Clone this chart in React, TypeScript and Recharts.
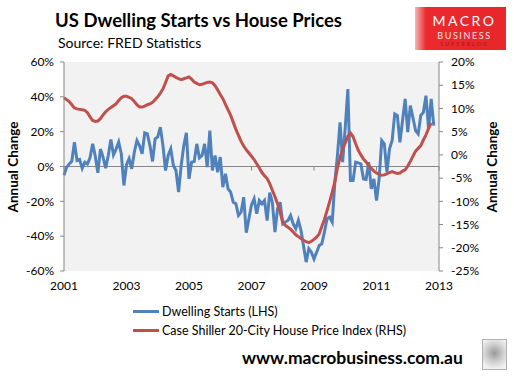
import React from "react";
import { CartesianGrid, Line, LineChart, ReferenceLine, XAxis, YAxis } from "recharts";

// monthly, Jan 2001 .. Nov 2012 (annual % change)
const dwellingStarts = [
  -5, -0.5, 1.5, 3, 14, 3.5, 4, -1, 2.5, 1.5, 5, 13,
  6, -3.6, 10, 5.4, -1, 6.3, 15.5, 6.7, 10, 14, 7.3, -10.9,
  1, 4.5, -1.3, 8.2, 14.9, 12, 7.3, 19.3, 18.7, 12, 2.9, 15.9,
  17, 22.6, 12, -2.3, 6.3, 10.1, 0.6, -2.3, -14.7, 0.6, 12, 19.3,
  -7.1, 2.5, 2.9, 13, 5, 6.3, 13, -0.4, 20.6, -2.3, 6.3, -3.3,
  5.4, -11.9, -4.2, -12.8, -14.7, -20.5, -21.4, -28.1, -26.2, -17.6, -38, -30,
  -22, -18.5, -27.1, -19.5, -21.4, -19.5, -31, -15, -20.5, -37.7, -24.3, -20.5,
  -32.9, -31.9, -31, -28.1, -32.9, -35.7, -31, -36.7, -45.8, -54.9, -47.2, -49.2,
  -53.1, -49.2, -45.3, -44.4, -37.7, -30, -29.1, -31.9, -9, 6.3, 25.4, 2.5,
  22.5, 44.5, -8, -8, 2.5, 2.1, 1.5, -7.1, -7.4, 2.5, -12.8, -7.1,
  -19.5, -7.1, 14.9, 13, -3.3, 10.1, 14.9, 30.2, 29.3, 13.9, 26.4, 38.8,
  19.7, 35, 28, 20.6, 18.7, 29.3, 31.1, 40.7, 21.6, 38.8, 23.5,
];

const caseShiller = [
  12.3, 11.9, 11.5, 10.8, 10.1, 9.9, 9.8, 9.7, 9.6, 9.1, 8.2, 7.4,
  7.2, 7.3, 7.8, 8.6, 9.3, 9.8, 10.2, 10.6, 11.0, 11.7, 12.3, 12.6,
  12.6, 12.4, 12.1, 11.5, 10.8, 10.3, 10.3, 10.5, 10.8, 11.0, 11.3, 11.9,
  12.5, 13.3, 14.2, 15.6, 17.0, 17.3, 17.0, 16.7, 16.4, 16.2, 16.4, 16.6,
  16.8, 16.3, 15.7, 15.4, 15.1, 15.2, 15.4, 15.6, 15.7, 15.5, 14.9, 14.0,
  13.0, 12.1, 10.9, 9.7, 8.5, 7.0, 5.5, 4.2, 2.9, 1.9, 1.1, 0.4,
  -0.3, -1.0, -1.9, -2.8, -3.8, -4.5, -5.1, -6.2, -7.6, -9.0, -10.5, -12.4,
  -14.5, -15.2, -15.6, -16.0, -16.6, -17.2, -17.6, -18.0, -18.4, -18.7, -18.9, -18.6,
  -18.2, -17.7, -17.0, -15.4, -13.9, -12.0, -10.1, -8.0, -5.8, -2.8, -0.6, 1.3,
  2.6, 4.0, 4.7, 3.9, 2.4, 1.0, 0.0, -0.9, -1.5, -2.3, -2.9, -3.5,
  -3.9, -4.2, -4.4, -4.3, -4.1, -3.8, -3.6, -3.8, -4.0, -3.9, -3.5, -3.2,
  -2.4, -1.4, -0.3, 0.8, 1.4, 2.0, 3.2, 4.3, 5.7, 6.9,
];

const yearTicks = [0, 24, 48, 72, 96, 120, 144];
const yearLabels = ["2001", "2003", "2005", "2007", "2009", "2011", "2013"];
const leftTicks = [-60, -40, -20, 0, 20, 40, 60];
const rightTicks = [-25, -20, -15, -10, -5, 0, 5, 10, 15, 20];

const data = dwellingStarts.map((v, i) => ({
  m: i,
  starts: v,
  prices: i < caseShiller.length ? caseShiller[i] : null,
}));

const FONT = "Lato, 'Open Sans', sans-serif";
const AXIS = "#868686";
const BLUE = "#4F81BD";
const RED = "#C0504D";

function AxisTitle({ x }: { x: number }) {
  return (
    <div
      style={{
        position: "absolute",
        left: x,
        top: 167,
        transform: "translate(-50%, -50%) rotate(-90deg)",
        fontSize: 13.5,
        fontWeight: 700,
        whiteSpace: "nowrap",
      }}
    >
      Annual Change
    </div>
  );
}

export default function App() {
  const tickStyle = { fill: "#000", fontSize: 12, fontFamily: FONT };
  return (
    <div style={{ position: "absolute", left: 0, top: 0, width: 514, height: 378, background: "#fff", fontFamily: FONT }}>
      <div style={{ position: "absolute", left: 55, top: 9, fontSize: 18.5, fontWeight: 700, whiteSpace: "nowrap" }}>
        US Dwelling Starts vs House Prices
      </div>
      <div style={{ position: "absolute", left: 58, top: 34, fontSize: 14, whiteSpace: "nowrap" }}>
        Source: FRED Statistics
      </div>

      <div
        style={{
          position: "absolute",
          left: 415,
          top: 7,
          width: 91,
          height: 43,
          background: "linear-gradient(90deg, #f7b5b5 0%, #ea2a2e 12%, #e8262b 100%)",
          textAlign: "center",
          lineHeight: 1,
        }}
      >
        <div style={{ color: "#fff", fontSize: 14, letterSpacing: 2.5, marginTop: 7, marginLeft: 8 }}>MACRO</div>
        <div style={{ color: "#fde2e2", fontSize: 9, letterSpacing: 1.6, marginTop: 3, marginLeft: 8 }}>BUSINESS</div>
        <div style={{ color: "#a8161a", fontSize: 5, letterSpacing: 2.2, marginTop: 2, marginLeft: 8 }}>SUPERBLOG</div>
      </div>

      <LineChart width={514} height={378} data={data} margin={{ top: 62, right: 0, bottom: 77, left: 0 }}>
        <CartesianGrid horizontal={false} vertical={false} fill="#F2F2F2" />
        <XAxis
          dataKey="m"
          type="number"
          domain={[0, 144]}
          ticks={yearTicks}
          tickFormatter={(v) => yearLabels[yearTicks.indexOf(v)]}
          axisLine={false}
          tickLine={false}
          tickSize={8}
          height={30}
          tick={tickStyle}
          interval={0}
        />
        <YAxis
          yAxisId="left"
          orientation="left"
          domain={[-60, 60]}
          ticks={leftTicks}
          tickFormatter={(v) => `${v}%`}
          width={64}
          tickSize={4}
          tickMargin={6}
          stroke={AXIS}
          tick={tickStyle}
          interval={0}
        />
        <YAxis
          yAxisId="right"
          orientation="right"
          domain={[-25, 20]}
          ticks={rightTicks}
          tickFormatter={(v) => `${v}%`}
          width={75}
          tickSize={4}
          tickMargin={8}
          stroke={AXIS}
          tick={tickStyle}
          interval={0}
        />
        <ReferenceLine yAxisId="left" y={0} stroke={AXIS} strokeWidth={1} />
        {yearTicks.map((t) => (
          <ReferenceLine
            key={t}
            yAxisId="left"
            segment={[
              { x: t, y: 0 },
              { x: t, y: -2.3 },
            ]}
            stroke={AXIS}
          />
        ))}
        <Line
          yAxisId="left"
          type="linear"
          dataKey="starts"
          stroke={BLUE}
          strokeWidth={3}
          dot={false}
          isAnimationActive={false}
        />
        <Line
          yAxisId="right"
          type="linear"
          dataKey="prices"
          stroke={RED}
          strokeWidth={3}
          dot={false}
          isAnimationActive={false}
        />
      </LineChart>

      <AxisTitle x={13} />
      <AxisTitle x={492} />

      <div style={{ position: "absolute", left: 133, top: 302, fontSize: 12.5, lineHeight: "19px" }}>
        <div style={{ display: "flex", alignItems: "center" }}>
          <span style={{ display: "inline-block", width: 26, height: 3, background: BLUE, marginRight: 3 }} />
          Dwelling Starts (LHS)
        </div>
        <div style={{ display: "flex", alignItems: "center" }}>
          <span style={{ display: "inline-block", width: 26, height: 3, background: RED, marginRight: 3 }} />
          Case Shiller 20-City House Price Index (RHS)
        </div>
      </div>

      <div style={{ position: "absolute", left: 242, top: 347, fontSize: 17.5, fontWeight: 700, whiteSpace: "nowrap" }}>
        www.macrobusiness.com.au
      </div>
      <div
        style={{
          position: "absolute",
          left: 482,
          top: 339,
          width: 23,
          height: 29,
          border: "1px solid #b0b0b0",
          background: "radial-gradient(circle at 50% 45%, #9a9a9a 0%, #cfcfcf 45%, #f0f0f0 80%)",
        }}
      />
    </div>
  );
}
